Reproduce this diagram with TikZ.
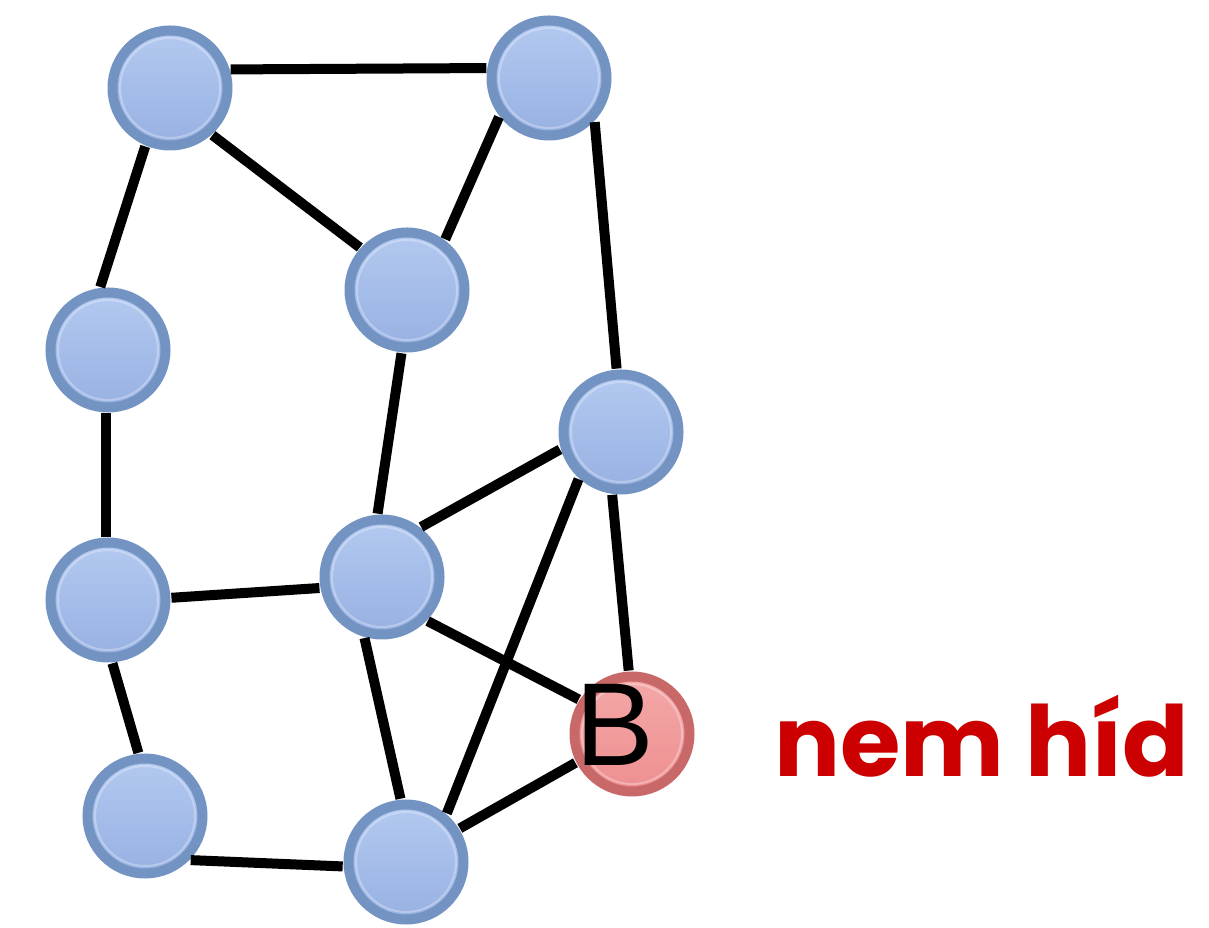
\documentclass[tikz,border=0pt]{standalone}
\usepackage{fontspec}
\newfontfamily\labelfont{Poppins}
\newfontfamily\bfont{Liberation Sans}
\definecolor{nodeborder}{HTML}{7393C2}
\definecolor{nodetop}{HTML}{B3C9F0}
\definecolor{nodebot}{HTML}{97B1E2}
\definecolor{redborder}{HTML}{C86868}
\definecolor{redtop}{HTML}{F4A8A8}
\definecolor{redbot}{HTML}{EE8F90}
\definecolor{labelred}{HTML}{CC0000}
\begin{document}
\begin{tikzpicture}[x=1pt,y=1pt,
  vert/.style={circle,minimum size=115pt,inner sep=0pt,line width=10pt,draw=nodeborder,
    top color=nodetop,bottom color=nodebot,outer sep=6pt},
  bvert/.style={circle,minimum size=115pt,inner sep=0pt,line width=10pt,draw=redborder,
    top color=redtop,bottom color=redbot,outer sep=6pt},
  shine/.style={draw=white,draw opacity=0.3,line width=2pt},
  edge/.style={line width=10pt,black}]
\useasboundingbox (0,0) rectangle (1209,928);
\fill[white] (0,0) rectangle (1209,928);
\node[vert] (n1) at (170,840) {};
\node[vert] (n2) at (549,850) {};
\node[vert] (n3) at (407,638) {};
\node[vert] (n4) at (108,578) {};
\node[vert] (n5) at (621,496) {};
\node[vert] (n6) at (108,328) {};
\node[vert] (n7) at (382,351) {};
\node[vert] (n8) at (145,112) {};
\node[vert] (n9) at (406,66) {};
\node[bvert] (B) at (632,194) {};
\foreach \n in {n1,n2,n3,n4,n5,n6,n7,n8,n9,B}
  \draw[shine] (\n.center) circle (50pt);
\node[font=\bfont\fontsize{118}{118}\selectfont,text=black,inner sep=0pt] (Bt) at (615,203) {B};
\node[font=\labelfont\bfseries\fontsize{98}{98}\selectfont,text=labelred,inner sep=0pt,anchor=base west] (lab) at (774,151) {nem híd};
\draw[edge] (n1.17) -- (n2.171);
\draw[edge] (n1.-48) -- (n3.138);
\draw[edge] (n1.-113) -- (n4.97);
\draw[edge] (n2.-142) -- (n3.53);
\draw[edge] (n2.-44) -- (n5.94);
\draw[edge] (n3.-95) -- (n7.94);
\draw[edge] (n4.-92) -- (n6.92);
\draw[edge] (n6.2) -- (n7.-170);
\draw[edge] (n6.-86) -- (n8.96);
\draw[edge] (n8.-44) -- (n9.-176);
\draw[edge] (n7.52) -- (n5.-164);
\draw[edge] (n7.-44) -- (B.147);
\draw[edge] (n7.-106) -- (n9.95);
\draw[edge] (n9.50) -- (n5.-132);
\draw[edge] (n5.-98) -- (B.93);
\draw[edge] (n9.32) -- (B.-153);
\end{tikzpicture}
\end{document}
